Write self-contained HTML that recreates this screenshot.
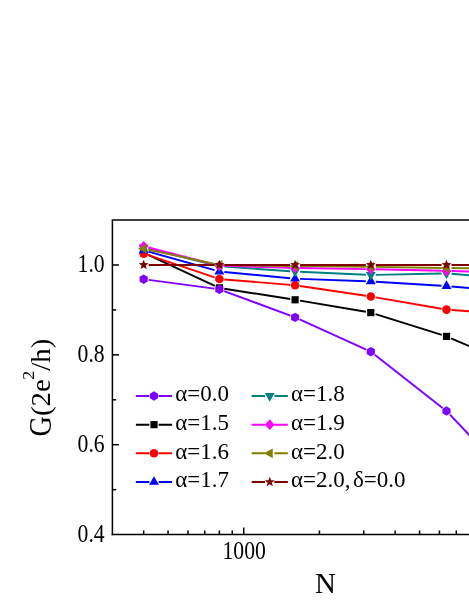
<!DOCTYPE html>
<html><head><meta charset="utf-8"><title>G vs N</title>
<style>
html,body{margin:0;padding:0;background:#fff;}
body{width:469px;height:607px;overflow:hidden;font-family:"Liberation Serif",serif;}
svg{display:block;}
</style></head><body>
<svg width="469" height="607" viewBox="0 0 469 607">
<rect width="469" height="607" fill="#fff"/>
<g><line x1="148.2" y1="254.9" x2="214.84" y2="285.8" stroke="#000000" stroke-width="1.95"/><line x1="224.32" y1="288.68" x2="290.15" y2="299.02" stroke="#000000" stroke-width="1.95"/><line x1="300.02" y1="300.63" x2="365.87" y2="311.77" stroke="#000000" stroke-width="1.95"/><line x1="375.57" y1="314.1" x2="441.73" y2="334.9" stroke="#000000" stroke-width="1.95"/><line x1="451.11" y1="338.35" x2="517.61" y2="366.55" stroke="#000000" stroke-width="1.95"/><rect x="140.07" y="249.2" width="7.2" height="7.2" fill="#000000"/><rect x="215.78" y="284.3" width="7.2" height="7.2" fill="#000000"/><rect x="291.49" y="296.2" width="7.2" height="7.2" fill="#000000"/><rect x="367.2" y="309" width="7.2" height="7.2" fill="#000000"/><rect x="442.9" y="332.8" width="7.2" height="7.2" fill="#000000"/><rect x="518.61" y="364.9" width="7.2" height="7.2" fill="#000000"/></g>
<g><line x1="148.62" y1="279.86" x2="214.42" y2="288.64" stroke="#8000ff" stroke-width="1.95"/><line x1="224.06" y1="291.04" x2="290.4" y2="315.66" stroke="#8000ff" stroke-width="1.95"/><line x1="299.64" y1="319.46" x2="366.24" y2="349.64" stroke="#8000ff" stroke-width="1.95"/><line x1="374.73" y1="354.78" x2="442.57" y2="407.92" stroke="#8000ff" stroke-width="1.95"/><line x1="449.95" y1="414.63" x2="518.77" y2="487.17" stroke="#8000ff" stroke-width="1.95"/><polygon points="143.67,274.5 147.74,276.85 147.74,281.55 143.67,283.9 139.6,281.55 139.6,276.85" fill="#8000ff"/><polygon points="219.38,284.6 223.45,286.95 223.45,291.65 219.38,294 215.31,291.65 215.31,286.95" fill="#8000ff"/><polygon points="295.09,312.7 299.16,315.05 299.16,319.75 295.09,322.1 291.02,319.75 291.02,315.05" fill="#8000ff"/><polygon points="370.8,347 374.87,349.35 374.87,354.05 370.8,356.4 366.72,354.05 366.72,349.35" fill="#8000ff"/><polygon points="446.5,406.3 450.57,408.65 450.57,413.35 446.5,415.7 442.43,413.35 442.43,408.65" fill="#8000ff"/><polygon points="522.21,486.1 526.28,488.45 526.28,493.15 522.21,495.5 518.14,493.15 518.14,488.45" fill="#8000ff"/></g>
<g><line x1="148.41" y1="255.19" x2="214.64" y2="277.41" stroke="#ff0000" stroke-width="1.95"/><line x1="224.36" y1="279.41" x2="290.1" y2="284.89" stroke="#ff0000" stroke-width="1.95"/><line x1="300.03" y1="286.03" x2="365.85" y2="295.77" stroke="#ff0000" stroke-width="1.95"/><line x1="375.72" y1="297.35" x2="441.58" y2="308.75" stroke="#ff0000" stroke-width="1.95"/><line x1="451.49" y1="309.98" x2="517.23" y2="314.92" stroke="#ff0000" stroke-width="1.95"/><circle cx="143.67" cy="253.6" r="4.3" fill="#ff0000"/><circle cx="219.38" cy="279" r="4.3" fill="#ff0000"/><circle cx="295.09" cy="285.3" r="4.3" fill="#ff0000"/><circle cx="370.8" cy="296.5" r="4.3" fill="#ff0000"/><circle cx="446.5" cy="309.6" r="4.3" fill="#ff0000"/><circle cx="522.21" cy="315.3" r="4.3" fill="#ff0000"/></g>
<g><line x1="148.48" y1="251.65" x2="214.56" y2="270.15" stroke="#0000ff" stroke-width="1.95"/><line x1="224.35" y1="271.97" x2="290.11" y2="278.23" stroke="#0000ff" stroke-width="1.95"/><line x1="300.08" y1="278.88" x2="365.8" y2="281.22" stroke="#0000ff" stroke-width="1.95"/><line x1="375.79" y1="281.7" x2="441.51" y2="285.7" stroke="#0000ff" stroke-width="1.95"/><line x1="451.48" y1="286.45" x2="517.23" y2="292.35" stroke="#0000ff" stroke-width="1.95"/><polygon points="143.67,244.5 148.62,253.2 138.72,253.2" fill="#0000ff"/><polygon points="219.38,265.7 224.33,274.4 214.43,274.4" fill="#0000ff"/><polygon points="295.09,272.9 300.04,281.6 290.14,281.6" fill="#0000ff"/><polygon points="370.8,275.6 375.75,284.3 365.85,284.3" fill="#0000ff"/><polygon points="446.5,280.2 451.45,288.9 441.55,288.9" fill="#0000ff"/><polygon points="522.21,287 527.16,295.7 517.26,295.7" fill="#0000ff"/></g>
<g><line x1="148.52" y1="248.52" x2="214.53" y2="265.08" stroke="#008080" stroke-width="1.95"/><line x1="224.37" y1="266.64" x2="290.1" y2="271.16" stroke="#008080" stroke-width="1.95"/><line x1="300.08" y1="271.73" x2="365.8" y2="274.77" stroke="#008080" stroke-width="1.95"/><line x1="375.79" y1="274.89" x2="441.51" y2="273.51" stroke="#008080" stroke-width="1.95"/><line x1="451.49" y1="273.81" x2="517.23" y2="279.19" stroke="#008080" stroke-width="1.95"/><polygon points="143.67,253.1 148.62,244.4 138.72,244.4" fill="#008080"/><polygon points="219.38,272.1 224.33,263.4 214.43,263.4" fill="#008080"/><polygon points="295.09,277.3 300.04,268.6 290.14,268.6" fill="#008080"/><polygon points="370.8,280.8 375.75,272.1 365.85,272.1" fill="#008080"/><polygon points="446.5,279.2 451.45,270.5 441.55,270.5" fill="#008080"/><polygon points="522.21,285.4 527.16,276.7 517.26,276.7" fill="#008080"/></g>
<g><line x1="148.51" y1="247.54" x2="214.53" y2="264.46" stroke="#ff00ff" stroke-width="1.95"/><line x1="224.37" y1="265.85" x2="290.09" y2="267.85" stroke="#ff00ff" stroke-width="1.95"/><line x1="300.09" y1="268.08" x2="365.8" y2="269.12" stroke="#ff00ff" stroke-width="1.95"/><line x1="375.79" y1="269.31" x2="441.51" y2="270.79" stroke="#ff00ff" stroke-width="1.95"/><line x1="451.5" y1="271.01" x2="517.21" y2="272.49" stroke="#ff00ff" stroke-width="1.95"/><polygon points="143.67,241 148.47,246.3 143.67,251.6 138.87,246.3" fill="#ff00ff"/><polygon points="219.38,260.4 224.18,265.7 219.38,271 214.58,265.7" fill="#ff00ff"/><polygon points="295.09,262.7 299.89,268 295.09,273.3 290.29,268" fill="#ff00ff"/><polygon points="370.8,263.9 375.6,269.2 370.8,274.5 366,269.2" fill="#ff00ff"/><polygon points="446.5,265.6 451.3,270.9 446.5,276.2 441.7,270.9" fill="#ff00ff"/><polygon points="522.21,267.3 527.01,272.6 522.21,277.9 517.41,272.6" fill="#ff00ff"/></g>
<g><line x1="148.56" y1="249.75" x2="214.49" y2="263.85" stroke="#808000" stroke-width="1.95"/><line x1="224.38" y1="264.97" x2="290.09" y2="265.93" stroke="#808000" stroke-width="1.95"/><line x1="300.09" y1="266.05" x2="365.8" y2="266.75" stroke="#808000" stroke-width="1.95"/><line x1="375.79" y1="266.88" x2="441.5" y2="267.92" stroke="#808000" stroke-width="1.95"/><line x1="451.5" y1="268.05" x2="517.21" y2="268.65" stroke="#808000" stroke-width="1.95"/><polygon points="137.97,248.7 146.67,243.8 146.67,253.6" fill="#808000"/><polygon points="213.68,264.9 222.38,260 222.38,269.8" fill="#808000"/><polygon points="289.39,266 298.09,261.1 298.09,270.9" fill="#808000"/><polygon points="365.1,266.8 373.8,261.9 373.8,271.7" fill="#808000"/><polygon points="440.8,268 449.5,263.1 449.5,272.9" fill="#808000"/><polygon points="516.51,268.7 525.21,263.8 525.21,273.6" fill="#808000"/></g>
<g><line x1="148.67" y1="264.9" x2="214.38" y2="264.9" stroke="#800000" stroke-width="1.95"/><line x1="224.38" y1="264.9" x2="290.09" y2="264.9" stroke="#800000" stroke-width="1.95"/><line x1="300.09" y1="264.9" x2="365.8" y2="264.9" stroke="#800000" stroke-width="1.95"/><line x1="375.8" y1="264.9" x2="441.5" y2="264.9" stroke="#800000" stroke-width="1.95"/><line x1="451.5" y1="264.9" x2="517.21" y2="264.9" stroke="#800000" stroke-width="1.95"/><polygon points="143.67,259.7 144.99,263.08 148.61,263.29 145.81,265.6 146.72,269.11 143.67,267.15 140.61,269.11 141.53,265.6 138.72,263.29 142.35,263.08" fill="#800000"/><polygon points="219.38,259.7 220.7,263.08 224.32,263.29 221.52,265.6 222.43,269.11 219.38,267.15 216.32,269.11 217.24,265.6 214.43,263.29 218.05,263.08" fill="#800000"/><polygon points="295.09,259.7 296.41,263.08 300.03,263.29 297.23,265.6 298.14,269.11 295.09,267.15 292.03,269.11 292.95,265.6 290.14,263.29 293.76,263.08" fill="#800000"/><polygon points="370.8,259.7 372.12,263.08 375.74,263.29 372.94,265.6 373.85,269.11 370.8,267.15 367.74,269.11 368.66,265.6 365.85,263.29 369.47,263.08" fill="#800000"/><polygon points="446.5,259.7 447.83,263.08 451.45,263.29 448.64,265.6 449.56,269.11 446.5,267.15 443.45,269.11 444.36,265.6 441.56,263.29 445.18,263.08" fill="#800000"/><polygon points="522.21,259.7 523.54,263.08 527.16,263.29 524.35,265.6 525.27,269.11 522.21,267.15 519.16,269.11 520.07,265.6 517.27,263.29 520.89,263.08" fill="#800000"/></g>
<g><path d="M112.4 535.33V220.07H474" fill="none" stroke="#000" stroke-width="1.5"/><path d="M111.65 534.58H474" fill="none" stroke="#000" stroke-width="1.5"/><line x1="112.4" x2="119" y1="265" y2="265" stroke="#000" stroke-width="1.5"/><line x1="112.4" x2="119" y1="354.86" y2="354.86" stroke="#000" stroke-width="1.5"/><line x1="112.4" x2="119" y1="444.72" y2="444.72" stroke="#000" stroke-width="1.5"/><line x1="112.4" x2="116.2" y1="309.93" y2="309.93" stroke="#000" stroke-width="1.5"/><line x1="112.4" x2="116.2" y1="399.79" y2="399.79" stroke="#000" stroke-width="1.5"/><line x1="112.4" x2="116.2" y1="489.65" y2="489.65" stroke="#000" stroke-width="1.5"/><line x1="143.67" x2="143.67" y1="534.58" y2="530.48" stroke="#000" stroke-width="1.5"/><line x1="168.04" x2="168.04" y1="534.58" y2="530.48" stroke="#000" stroke-width="1.5"/><line x1="187.96" x2="187.96" y1="534.58" y2="530.48" stroke="#000" stroke-width="1.5"/><line x1="204.79" x2="204.79" y1="534.58" y2="530.48" stroke="#000" stroke-width="1.5"/><line x1="219.38" x2="219.38" y1="534.58" y2="530.48" stroke="#000" stroke-width="1.5"/><line x1="232.24" x2="232.24" y1="534.58" y2="530.48" stroke="#000" stroke-width="1.5"/><line x1="319.46" x2="319.46" y1="534.58" y2="530.48" stroke="#000" stroke-width="1.5"/><line x1="363.75" x2="363.75" y1="534.58" y2="530.48" stroke="#000" stroke-width="1.5"/><line x1="395.17" x2="395.17" y1="534.58" y2="530.48" stroke="#000" stroke-width="1.5"/><line x1="419.54" x2="419.54" y1="534.58" y2="530.48" stroke="#000" stroke-width="1.5"/><line x1="439.46" x2="439.46" y1="534.58" y2="530.48" stroke="#000" stroke-width="1.5"/><line x1="456.29" x2="456.29" y1="534.58" y2="530.48" stroke="#000" stroke-width="1.5"/><line x1="470.88" x2="470.88" y1="534.58" y2="530.48" stroke="#000" stroke-width="1.5"/><line x1="243.75" x2="243.75" y1="534.58" y2="527.58" stroke="#000" stroke-width="1.5"/></g>
<g><path d="M135.9 396H149.3M158.6 396H172.1" stroke="#8000ff" stroke-width="1.95" fill="none"/><polygon points="154,391.3 158.07,393.65 158.07,398.35 154,400.7 149.93,398.35 149.93,393.65" fill="#8000ff"/><path d="M135.9 424.65H149.3M158.6 424.65H172.1" stroke="#000000" stroke-width="1.95" fill="none"/><rect x="150.4" y="421.05" width="7.2" height="7.2" fill="#000000"/><path d="M135.9 453.3H149.3M158.6 453.3H172.1" stroke="#ff0000" stroke-width="1.95" fill="none"/><circle cx="154" cy="453.3" r="4.3" fill="#ff0000"/><path d="M135.9 481.95H149.3M158.6 481.95H172.1" stroke="#0000ff" stroke-width="1.95" fill="none"/><polygon points="154,476.15 158.95,484.85 149.05,484.85" fill="#0000ff"/><path d="M251.65 396H265.05M274.35 396H287.85" stroke="#008080" stroke-width="1.95" fill="none"/><polygon points="269.75,401.8 274.7,393.1 264.8,393.1" fill="#008080"/><path d="M251.65 424.65H265.05M274.35 424.65H287.85" stroke="#ff00ff" stroke-width="1.95" fill="none"/><polygon points="269.75,419.35 274.55,424.65 269.75,429.95 264.95,424.65" fill="#ff00ff"/><path d="M251.65 453.3H265.05M274.35 453.3H287.85" stroke="#808000" stroke-width="1.95" fill="none"/><polygon points="264.05,453.3 272.75,448.4 272.75,458.2" fill="#808000"/><path d="M251.65 481.95H265.05M274.35 481.95H287.85" stroke="#800000" stroke-width="1.95" fill="none"/><polygon points="269.75,476.75 271.07,480.13 274.7,480.34 271.89,482.65 272.81,486.16 269.75,484.2 266.69,486.16 267.61,482.65 264.8,480.34 268.43,480.13" fill="#800000"/></g>
<g font-family="'Liberation Serif', serif" fill="#000" style="filter:grayscale(1)"><text transform="translate(104.7 272.2) scale(0.885 1)" font-size="24.5" text-anchor="end">1.0</text><text transform="translate(104.7 362.06) scale(0.885 1)" font-size="24.5" text-anchor="end">0.8</text><text transform="translate(104.7 451.92) scale(0.885 1)" font-size="24.5" text-anchor="end">0.6</text><text transform="translate(104.7 541.78) scale(0.885 1)" font-size="24.5" text-anchor="end">0.4</text><text transform="translate(244.2 559.2) scale(0.885 1)" font-size="24.5" text-anchor="middle">1000</text><text transform="translate(325.5 592.6)" font-size="29" text-anchor="middle">N</text><text transform="translate(50.8 436.4) rotate(-90) scale(0.91 1)" font-size="31" text-anchor="start">G</text><text transform="translate(50.2 416) rotate(-90) scale(1.045 1)" font-size="27.6" text-anchor="start">(2e<tspan font-size="17" dy="-16.1" dx="-0.6">2</tspan><tspan dy="16.1" dx="0.2">/h)</tspan></text><text transform="translate(175.2 401.3) scale(0.975 1)" font-size="23.6" text-anchor="start">α=0.0</text><text transform="translate(175.2 429.95) scale(0.975 1)" font-size="23.6" text-anchor="start">α=1.5</text><text transform="translate(175.2 458.6) scale(0.975 1)" font-size="23.6" text-anchor="start">α=1.6</text><text transform="translate(175.2 487.25) scale(0.975 1)" font-size="23.6" text-anchor="start">α=1.7</text><text transform="translate(290.95 401.3) scale(0.975 1)" font-size="23.6" text-anchor="start">α=1.8</text><text transform="translate(290.95 429.95) scale(0.975 1)" font-size="23.6" text-anchor="start">α=1.9</text><text transform="translate(290.95 458.6) scale(0.975 1)" font-size="23.6" text-anchor="start">α=2.0</text><text transform="translate(290.95 487.25) scale(0.975 1)" font-size="23.6" text-anchor="start">α=2.0, <tspan dx="-3.4">δ</tspan>=0.0</text></g>
</svg>
</body></html>
